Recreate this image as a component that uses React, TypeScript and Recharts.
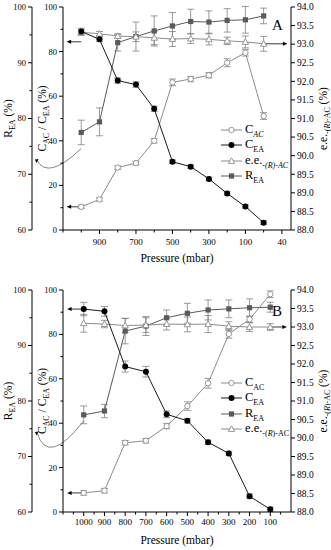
import React from "react"
import { ComposedChart, Line, XAxis, YAxis, ErrorBar, ReferenceLine, Legend } from "recharts"

// ---- panel A ----
const pressureA = ["1000", "900", "800", "700", "600", "500", "400", "300", "200", "100", "50"]
const cacA = [10.4, 13.7, 28, 30, 40, 66.2, 67.7, 69.4, 75, 79.5, 51.1]
const cacErrA = [0.8, 0.8, 0.8, 0.8, 1, 1.5, 1.2, 1.2, 1.8, 1.5, 1.5]
const ceaA = [89, 85.5, 67, 65.2, 54.4, 30.6, 28.4, 22.9, 16.4, 10.5, 3.3]
const ceaErrA = [1.5, 1, 1.2, 1.2, 1.2, 0.8, 0.8, 0.8, 0.8, 0.8, 0.8]
const reaA = [77.5, 79.4, 93.6, 94.7, 95.7, 96.6, 97.4, 97.3, 97.6, 97.7, 98.4]
const reaErrA = [2.2, 2.5, 1.5, 2.6, 2.7, 2.4, 2.2, 2, 2.1, 2.4, 1.4]
const eeA = [93.32, 93.28, 93.22, 93.2, 93.17, 93.14, 93.15, 93.13, 93.09, 93.06, 93.01]
const eeErrA = [0.08, 0.06, 0.06, 0.13, 0.18, 0.2, 0.13, 0.15, 0.1, 0.16, 0.2]
const xLabelsA = ["900", "700", "500", "300", "100", "40"]
const xLabelPosA = [1, 3, 5, 7, 9, 11]
const xMinorA = [-1, 0, 2, 4, 6, 8, 10]

// ---- panel B ----
const pressureB = ["1000", "900", "800", "700", "600", "500", "400", "300", "200", "100"]
const cacB = [8.6, 9.6, 31.2, 32.1, 38.7, 47.7, 58, 80.2, 86.8, 98.1]
const cacErrB = [1, 1, 1, 1, 1.2, 1.9, 2.2, 1.9, 1.5, 1.5]
const ceaB = [91.4, 90.4, 65.5, 63.2, 44, 41.1, 31.4, 26.4, 7.1, 1.2]
const ceaErrB = [3, 2.2, 2.5, 2.4, 1.5, 1, 1, 1, 1, 1]
const reaB = [77.5, 78.2, 92.6, 93.5, 95, 95.8, 96.4, 96.6, 96.8, 96.9]
const reaErrB = [1.6, 1.2, 2.3, 1.7, 1.4, 1.8, 1.8, 1.6, 1.6, 0.9]
const eeB = [93.1, 93.08, 93.04, 93.05, 93.08, 93.07, 93.08, 93.02, 93.0, 93.0]
const eeErrB = [0.24, 0.1, 0.19, 0.2, 0.16, 0.2, 0.23, 0.12, 0.12, 0.09]
const xLabelPosB = [0, 1, 2, 3, 4, 5, 6, 7, 8, 9]
const xMinorB = [-1, -0.5, 0.5, 1.5, 2.5, 3.5, 4.5, 5.5, 6.5, 7.5, 8.5, 9.5]

const innerTicks = [0, 10, 20, 30, 40, 50, 60, 70, 80, 90, 100]
const outerTicks = [60, 65, 70, 75, 80, 85, 90, 95, 100]
const eeTicks = [88, 88.5, 89, 89.5, 90, 90.5, 91, 91.5, 92, 92.5, 93, 93.5, 94]

const FONT = "Liberation Serif, DejaVu Serif, serif"

const SERIES: any = {
  cac: { color: "#8c8c8c", marker: "open", axis: "inner" },
  cea: { color: "#1a1a1a", marker: "dot", axis: "inner" },
  ee: { color: "#8c8c8c", marker: "tri", axis: "ee" },
  rea: { color: "#5a5a5a", marker: "square", axis: "outer" },
}

function Marker({ kind, cx, cy, color }: any) {
  if (cx == null || cy == null) return null
  if (kind === "open") return <circle cx={cx} cy={cy} r={2.7} fill="#fff" stroke={color} strokeWidth={0.9} />
  if (kind === "dot") return <circle cx={cx} cy={cy} r={3} fill="#000" />
  if (kind === "tri")
    return (
      <polygon
        points={`${cx},${cy - 3.2} ${cx - 3.2},${cy + 2.4} ${cx + 3.2},${cy + 2.4}`}
        fill="#fff"
        stroke={color}
        strokeWidth={0.9}
      />
    )
  return <rect x={cx - 2.6} y={cy - 2.6} width={5.2} height={5.2} fill={color} />
}

function seriesName(k: string, italicAC: boolean) {
  const s = { fontSize: 8, verticalAlign: "sub" as const }
  if (k === "cac") return <>C<span style={{ ...s, fontStyle: italicAC ? "italic" : "normal" }}>AC</span></>
  if (k === "cea") return <>C<span style={s}>EA</span></>
  if (k === "rea") return <>R<span style={s}>EA</span></>
  return (
    <>
      e.e.<span style={{ ...s, fontStyle: italicAC ? "italic" : "normal" }}>-(<i>R</i>)-AC</span>
    </>
  )
}

function LegendBox({ order, italicAC }: any) {
  return (
    <div style={{ fontFamily: FONT, fontSize: 12.5, color: "#000" }}>
      {order.map((k: string) => (
        <div key={k} style={{ display: "flex", alignItems: "center", height: 15.5 }}>
          <svg width={21} height={10}>
            <line x1={0} y1={5} x2={21} y2={5} stroke={SERIES[k].color} strokeWidth={1} />
            <Marker kind={SERIES[k].marker} cx={10.5} cy={5} color={SERIES[k].color} />
          </svg>
          <span style={{ marginLeft: 3, whiteSpace: "nowrap" }}>{seriesName(k, italicAC)}</span>
        </div>
      ))}
    </div>
  )
}

function YTick({ x, y, payload, side, isMajor, fmt, fontSize }: any) {
  const v = payload.value
  const major = isMajor(v)
  const dir = side === "left" ? -1 : 1
  const len = major ? 4 : 2.5
  return (
    <g>
      <line x1={x} y1={y} x2={x + dir * len} y2={y} stroke="#000" strokeWidth={1} />
      {major && (
        <text
          x={x + dir * (len + 2)}
          y={y}
          dy="0.35em"
          textAnchor={side === "left" ? "end" : "start"}
          style={{ fontFamily: FONT }}
          fontSize={fontSize}
          fill="#000"
        >
          {fmt(v)}
        </text>
      )}
    </g>
  )
}

function XTick({ x, y, payload, labels, positions, dy }: any) {
  const idx = positions.indexOf(payload.value)
  const major = idx >= 0
  return (
    <g>
      <line x1={x} y1={y} x2={x} y2={y + (major ? 4 : 2.5)} stroke="#000" strokeWidth={1} />
      {major && (
        <text x={x} y={y + dy} textAnchor="middle" style={{ fontFamily: FONT }} fontSize={9} fill="#000">
          {labels[idx]}
        </text>
      )}
    </g>
  )
}

function YTitle({ viewBox, dx, children }: any) {
  const cx = viewBox.x + dx
  const cy = viewBox.y + viewBox.height / 2
  return (
    <text
      transform={`translate(${cx},${cy}) rotate(-90)`}
      textAnchor="middle"
      dy="0.35em"
      style={{ fontFamily: FONT }}
      fontSize={11.5}
      fill="#000"
    >
      {children}
    </text>
  )
}

function StraightArrow({ x1, y1, x2, y2 }: any) {
  const d = x2 < x1 ? -1 : 1
  return (
    <g>
      <line x1={x1} y1={y1} x2={x2 - d * 3} y2={y2} stroke="#222" strokeWidth={0.9} />
      <polygon points={`${x2},${y2} ${x2 - d * 4.5},${y2 - 2} ${x2 - d * 4.5},${y2 + 2}`} fill="#000" />
    </g>
  )
}

function CurveArrow({ x1, y1, x2, c }: any) {
  const sx = x1
  const sy = y1 + c.start
  const ex = x2 - 28
  const ey = y1 + c.end
  const cxp = x2 - 15
  const cyp = y1 + c.ctrl
  return (
    <g>
      <path d={`M${sx},${sy} Q${cxp},${cyp} ${ex + 2},${ey + 1}`} fill="none" stroke="#777" strokeWidth={0.9} />
      <polygon points={`${ex},${ey} ${ex + 3.5},${ey - 0.5} ${ex + 1.5},${ey + 3.5}`} fill="#000" />
    </g>
  )
}

function Panel(props: any) {
  const { rows, domain, xLabels, xLabelPos, xMinor, tickDy, marginTop, axisH, legendOrder, legendTop, italicAC, letter, letterTop, arrows, curve } = props
  return (
    <div style={{ position: "relative", width: 331, height: 275 }}>
      <ComposedChart width={331} height={275} data={rows} margin={{ top: marginTop, right: 0, bottom: 0, left: 0 }}>
        <XAxis
          dataKey="pos"
          type="number"
          domain={domain}
          allowDataOverflow
          ticks={[...xMinor, ...xLabelPos]}
          interval={0}
          height={axisH}
          stroke="#000"
          tickSize={0}
          tickMargin={0}
          tickLine={false}
          tick={(p: any) => <XTick {...p} labels={xLabels} positions={xLabelPos} dy={tickDy} />}
          label={(p: any) => (
            <text
              x={p.viewBox.x + p.viewBox.width / 2}
              y={p.viewBox.y + 32}
              textAnchor="middle"
              style={{ fontFamily: FONT }}
              fontSize={11.5}
              fill="#000"
            >
              Pressure (mbar)
            </text>
          )}
        />
        <XAxis xAxisId="top" orientation="top" type="number" domain={domain} height={0} tick={false} tickLine={false} stroke="#000" />
        <YAxis
          yAxisId="inner"
          domain={[0, 100]}
          allowDataOverflow
          ticks={innerTicks}
          interval={0}
          width={31}
          stroke="#000"
          tickSize={0}
          tickMargin={0}
          tickLine={false}
          tick={(p: any) => <YTick {...p} side="left" isMajor={(v: number) => v % 20 === 0} fmt={(v: number) => v} fontSize={8.5} />}
          label={(p: any) => (
            <YTitle viewBox={p.viewBox} dx={10}>
              C<tspan dy={2.5} fontSize={8}>AC</tspan>
              <tspan dy={-2.5}> / C</tspan>
              <tspan dy={2.5} fontSize={8}>EA</tspan>
              <tspan dy={-2.5}> (%)</tspan>
            </YTitle>
          )}
        />
        <YAxis
          yAxisId="outer"
          domain={[60, 100]}
          allowDataOverflow
          ticks={outerTicks}
          interval={0}
          width={32}
          stroke="#000"
          tickSize={0}
          tickMargin={0}
          tickLine={false}
          tick={(p: any) => <YTick {...p} side="left" isMajor={(v: number) => v % 10 === 0} fmt={(v: number) => v} fontSize={8.5} />}
          label={(p: any) => (
            <YTitle viewBox={p.viewBox} dx={8}>
              R<tspan dy={2.5} fontSize={8}>EA</tspan>
              <tspan dy={-2.5}> (%)</tspan>
            </YTitle>
          )}
        />
        <YAxis
          yAxisId="ee"
          orientation="right"
          domain={[88, 94]}
          allowDataOverflow
          ticks={eeTicks}
          interval={0}
          width={40}
          stroke="#000"
          tickSize={0}
          tickMargin={0}
          tickLine={false}
          tick={(p: any) => <YTick {...p} side="right" isMajor={() => true} fmt={(v: number) => v.toFixed(1)} fontSize={9.5} />}
          label={(p: any) => (
            <YTitle viewBox={p.viewBox} dx={32}>
              e.e.<tspan dy={2.5} fontSize={8}>-(</tspan>
              <tspan fontSize={8} fontStyle="italic">R</tspan>
              <tspan fontSize={8}>)-AC</tspan>
              <tspan dy={-2.5}> (%)</tspan>
            </YTitle>
          )}
        />

        {arrows.map((a: any, i: number) => (
          <ReferenceLine
            key={"arr" + i}
            yAxisId={a.axis}
            ifOverflow="visible"
            segment={[{ x: a.from, y: a.y }, { x: a.to, y: a.y }]}
            shape={(p: any) => <StraightArrow {...p} />}
          />
        ))}
        <ReferenceLine
          yAxisId="outer"
          ifOverflow="visible"
          segment={[{ x: 0, y: rows[0].rea }, { x: domain[0], y: rows[0].rea }]}
          shape={(p: any) => <CurveArrow {...p} c={curve} />}
        />

        {["rea", "ee", "cac", "cea"].map((k) => (
          <Line
            key={k}
            dataKey={k}
            yAxisId={SERIES[k].axis}
            stroke={SERIES[k].color}
            strokeWidth={1}
            isAnimationActive={false}
            dot={(d: any) => <Marker key={k + d.index} kind={SERIES[k].marker} cx={d.cx} cy={d.cy} color={SERIES[k].color} />}
            activeDot={false}
          >
            <ErrorBar dataKey={k + "Err"} direction="y" width={3.5} stroke="#808080" strokeWidth={0.8} />
          </Line>
        ))}

        <Legend
          layout="vertical"
          align="center"
          verticalAlign="middle"
          wrapperStyle={{ left: 221, top: legendTop, width: 100 }}
          content={() => <LegendBox order={legendOrder} italicAC={italicAC} />}
        />
      </ComposedChart>
      <div style={{ position: "absolute", left: 272, top: letterTop, fontFamily: FONT, fontSize: 15, color: "#000" }}>{letter}</div>
    </div>
  )
}

const rowsA = pressureA.map((p, i) => ({
  pos: i,
  pressure: p,
  cac: cacA[i],
  cacErr: cacErrA[i],
  cea: ceaA[i],
  ceaErr: ceaErrA[i],
  rea: reaA[i],
  reaErr: reaErrA[i],
  ee: eeA[i],
  eeErr: eeErrA[i],
}))

const rowsB = pressureB.map((p, i) => ({
  pos: i,
  pressure: p,
  cac: cacB[i],
  cacErr: cacErrB[i],
  cea: ceaB[i],
  ceaErr: ceaErrB[i],
  rea: reaB[i],
  reaErr: reaErrB[i],
  ee: eeB[i],
  eeErr: eeErrB[i],
}))

export default function App() {
  return (
    <div style={{ position: "absolute", left: 0, top: 0, width: 331, height: 550, background: "#fff" }}>
      <Panel
        rows={rowsA}
        domain={[-1, 11.5]}
        xLabels={xLabelsA}
        xLabelPos={xLabelPosA}
        xMinor={xMinorA}
        tickDy={15}
        marginTop={7}
        axisH={45}
        legendOrder={["cac", "cea", "ee", "rea"]}
        legendTop={122}
        italicAC={true}
        letter="A"
        letterTop={17}
        arrows={[
          { axis: "inner", y: cacA[0], from: 0, to: -0.8 },
          { axis: "inner", y: 84.4, from: 0, to: -0.8 },
          { axis: "ee", y: eeA[10], from: 10, to: 11.3 },
        ]}
        curve={{ start: 16, end: 27, ctrl: 48 }}
      />
      <Panel
        rows={rowsB}
        domain={[-1, 10]}
        xLabels={pressureB}
        xLabelPos={xLabelPosB}
        xMinor={xMinorB}
        tickDy={13}
        marginTop={15}
        axisH={38}
        legendOrder={["cac", "cea", "rea", "ee"]}
        legendTop={100}
        italicAC={false}
        letter="B"
        letterTop={28}
        arrows={[
          { axis: "inner", y: cacB[0], from: 0, to: -0.8 },
          { axis: "inner", y: ceaB[0], from: 0, to: -0.8 },
          { axis: "ee", y: eeB[9], from: 9, to: 9.8 },
        ]}
        curve={{ start: 6, end: 17, ctrl: 52 }}
      />
    </div>
  )
}
